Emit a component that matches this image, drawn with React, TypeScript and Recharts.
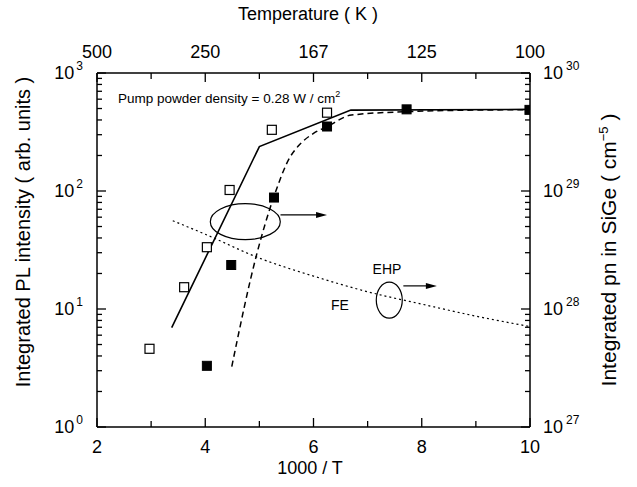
import { ComposedChart, Line, Scatter, XAxis, YAxis, ReferenceDot, ReferenceLine } from 'recharts';

// 1000/T ticks on the bottom axis and the matching temperatures on top
const invTTicks = [2, 3, 4, 5, 6, 7, 8, 9, 10];
const tempLabels: Record<number, string> = { 2: '500', 4: '250', 6: '167', 8: '125', 10: '100' };

const plTicks = [1, 2, 3, 4, 5, 6, 7, 8, 9, 10, 20, 30, 40, 50, 60, 70, 80, 90, 100, 200, 300, 400, 500, 600, 700, 800, 900, 1000];
const pnTicks = [1e27, 2e27, 3e27, 4e27, 5e27, 6e27, 7e27, 8e27, 9e27, 1e28, 2e28, 3e28, 4e28, 5e28, 6e28, 7e28, 8e28, 9e28, 1e29, 2e29, 3e29, 4e29, 5e29, 6e29, 7e29, 8e29, 9e29, 1e30];

// measured PL intensity (open squares / filled squares)
const openSquares = [
  { x: 2.97, y: 4.6 },
  { x: 3.61, y: 15.3 },
  { x: 4.03, y: 33.4 },
  { x: 4.45, y: 102 },
  { x: 5.23, y: 330 },
  { x: 6.25, y: 461 },
];
const filledSquares = [
  { x: 4.03, y: 3.3 },
  { x: 4.48, y: 23.6 },
  { x: 5.27, y: 88 },
  { x: 6.25, y: 352 },
  { x: 7.72, y: 492 },
  { x: 9.99, y: 487 },
];

// fitted curves
const solidFit = [
  { x: 3.38, y: 6.95 },
  { x: 5.0, y: 238 },
  { x: 6.69, y: 485 },
  { x: 10, y: 492 },
];
const dashedFit = [
  { x: 4.49, y: 3.25 },
  { x: 4.95, y: 29 },
  { x: 5.27, y: 90 },
  { x: 5.57, y: 195 },
  { x: 5.71, y: 238 },
  { x: 6.0, y: 308 },
  { x: 6.25, y: 351 },
  { x: 6.7, y: 440 },
  { x: 7.7, y: 470 },
  { x: 9.2, y: 486 },
  { x: 10, y: 488 },
];
// integrated pn (right axis)
const pnCurve = [
  { x: 3.4, y: 5.6e28 },
  { x: 4, y: 4.3e28 },
  { x: 5, y: 2.7e28 },
  { x: 6, y: 1.9e28 },
  { x: 7, y: 1.4e28 },
  { x: 8, y: 1.1e28 },
  { x: 9, y: 8.7e27 },
  { x: 10, y: 7.1e27 },
];

const isDecade = (v: number) => Math.abs(Math.log10(v) - Math.round(Math.log10(v))) < 1e-6;

const LeftTick = (p: any) => {
  const v = p.payload.value;
  const major = isDecade(v);
  return (
    <g>
      <line x1={p.x} x2={p.x + (major ? 9 : 5)} y1={p.y} y2={p.y} stroke='#000' strokeWidth={1.3} />
      {major && (
        <text x={p.x - 14} y={p.y + 6} textAnchor='end' fontSize={18} fill='#000'>
          <tspan>10</tspan>
          <tspan dx={2} dy={-9} fontSize={12}>{Math.round(Math.log10(v))}</tspan>
        </text>
      )}
    </g>
  );
};

const RightTick = (p: any) => {
  const v = p.payload.value;
  const major = isDecade(v);
  return (
    <g>
      <line x1={p.x} x2={p.x - (major ? 9 : 5)} y1={p.y} y2={p.y} stroke='#000' strokeWidth={1.3} />
      {major && (
        <text x={p.x + 13} y={p.y + 6} textAnchor='start' fontSize={18} fill='#000'>
          <tspan>10</tspan>
          <tspan dx={3} dy={-9} fontSize={12}>{Math.round(Math.log10(v))}</tspan>
        </text>
      )}
    </g>
  );
};

const BottomTick = (p: any) => {
  const v = p.payload.value;
  const major = v % 2 === 0;
  return (
    <g>
      <line x1={p.x} x2={p.x} y1={p.y} y2={p.y - (major ? 9 : 6)} stroke='#000' strokeWidth={1.3} />
      {major && (
        <text x={p.x} y={p.y + 26} textAnchor='middle' fontSize={18} fill='#000'>{v}</text>
      )}
    </g>
  );
};

const TopTick = (p: any) => {
  const v = p.payload.value;
  const major = v % 2 === 0;
  return (
    <g>
      <line x1={p.x} x2={p.x} y1={p.y} y2={p.y + (major ? 9 : 6)} stroke='#000' strokeWidth={1.3} />
      {major && (
        <text x={p.x} y={p.y - 15} textAnchor='middle' fontSize={18} fill='#000'>{tempLabels[v]}</text>
      )}
    </g>
  );
};

const OpenSquare = (p: any) => (
  <rect x={p.cx - 4.5} y={p.cy - 4.5} width={9} height={9} fill='#fff' stroke='#000' strokeWidth={1.2} />
);
const FilledSquare = (p: any) => (
  <rect x={p.cx - 4.5} y={p.cy - 4.5} width={9} height={9} fill='#000' stroke='#000' />
);

const ellipse = (rx: number, ry: number) => (p: any) => (
  <ellipse cx={p.cx} cy={p.cy} rx={rx} ry={ry} fill='none' stroke='#000' strokeWidth={1.2} />
);
const arrowHead = (p: any) => (
  <path d={`M${p.cx},${p.cy} L${p.cx - 11},${p.cy - 3} L${p.cx - 11},${p.cy + 3} Z`} fill='#000' />
);

export default function App() {
  return (
    <div style={{ position: 'absolute', left: 0, top: 0, fontFamily: '"Liberation Sans", Arial, sans-serif' }}>
      <ComposedChart width={637} height={487} margin={{ top: 0, right: 0, bottom: 0, left: 0 }}>
        <XAxis xAxisId='bottom' dataKey='x' type='number' domain={[2, 10]} ticks={invTTicks} interval={0}
          allowDataOverflow height={60} tickSize={0} tickMargin={0} tick={BottomTick}
          axisLine={{ stroke: '#000', strokeWidth: 1.5 }} />
        <XAxis xAxisId='top' orientation='top' dataKey='x' type='number' domain={[2, 10]} ticks={invTTicks} interval={0}
          allowDataOverflow height={73} tickSize={0} tickMargin={0} tick={TopTick}
          axisLine={{ stroke: '#000', strokeWidth: 1.5 }} />
        <YAxis yAxisId='left' dataKey='y' scale='log' type='number' domain={[1, 1000]} ticks={plTicks} interval={0}
          allowDataOverflow width={97} tickSize={0} tickMargin={0} tick={LeftTick}
          axisLine={{ stroke: '#000', strokeWidth: 1.5 }} />
        <YAxis yAxisId='right' orientation='right' dataKey='y' scale='log' type='number' domain={[1e27, 1e30]} ticks={pnTicks} interval={0}
          allowDataOverflow width={107} tickSize={0} tickMargin={0} tick={RightTick}
          axisLine={{ stroke: '#000', strokeWidth: 1.5 }} />

        <Line xAxisId='bottom' yAxisId='right' data={pnCurve} dataKey='y' type='monotone' stroke='#000'
          strokeWidth={1.2} strokeDasharray='2 3' dot={false} isAnimationActive={false} />
        <Line xAxisId='bottom' yAxisId='left' data={solidFit} dataKey='y' type='linear' stroke='#000'
          strokeWidth={1.6} dot={false} isAnimationActive={false} />
        <Line xAxisId='bottom' yAxisId='left' data={dashedFit} dataKey='y' type='monotone' stroke='#000'
          strokeWidth={1.5} strokeDasharray='6 4' dot={false} isAnimationActive={false} />
        <Scatter xAxisId='bottom' yAxisId='left' data={openSquares} dataKey='y' shape={OpenSquare} isAnimationActive={false} />
        <Scatter xAxisId='bottom' yAxisId='left' data={filledSquares} dataKey='y' shape={FilledSquare} isAnimationActive={false} />

        <ReferenceDot xAxisId='bottom' yAxisId='left' x={4.74} y={55} shape={ellipse(35, 18)} />
        <ReferenceLine xAxisId='bottom' yAxisId='left' segment={[{ x: 5.39, y: 62.7 }, { x: 6.1, y: 62.7 }]} stroke='#000' strokeWidth={1.2} />
        <ReferenceDot xAxisId='bottom' yAxisId='left' x={6.25} y={62.7} shape={arrowHead} />

        <ReferenceDot xAxisId='bottom' yAxisId='left' x={7.4} y={11.9} shape={ellipse(13, 18)} />
        <ReferenceLine xAxisId='bottom' yAxisId='left' segment={[{ x: 7.66, y: 15.7 }, { x: 8.1, y: 15.7 }]} stroke='#000' strokeWidth={1.2} />
        <ReferenceDot xAxisId='bottom' yAxisId='left' x={8.28} y={15.7} shape={arrowHead} />

        <text x={118} y={103} fontSize={13.5} fill='#000'>
          Pump powder density  = 0.28 W / cm<tspan dy={-6} fontSize={9}>2</tspan>
        </text>
        <text x={387} y={274} fontSize={14} textAnchor='middle' fill='#000'>EHP</text>
        <text x={340} y={310} fontSize={14} textAnchor='middle' fill='#000'>FE</text>

        <text x={308} y={20} fontSize={18} textAnchor='middle' fill='#000'>Temperature ( K )</text>
        <text x={310} y={474} fontSize={18} textAnchor='middle' fill='#000'>1000 / T</text>
        <text x={30} y={232} fontSize={20} textAnchor='middle' fill='#000' transform='rotate(-90 30 232)'>
          Integrated PL intensity ( arb. units )
        </text>
        <text x={616} y={250} fontSize={21} textAnchor='middle' fill='#000' transform='rotate(-90 616 250)'>
          Integrated pn in SiGe ( cm<tspan dy={-8} fontSize={13}>−5</tspan><tspan dy={8}> )</tspan>
        </text>
      </ComposedChart>
    </div>
  );
}
